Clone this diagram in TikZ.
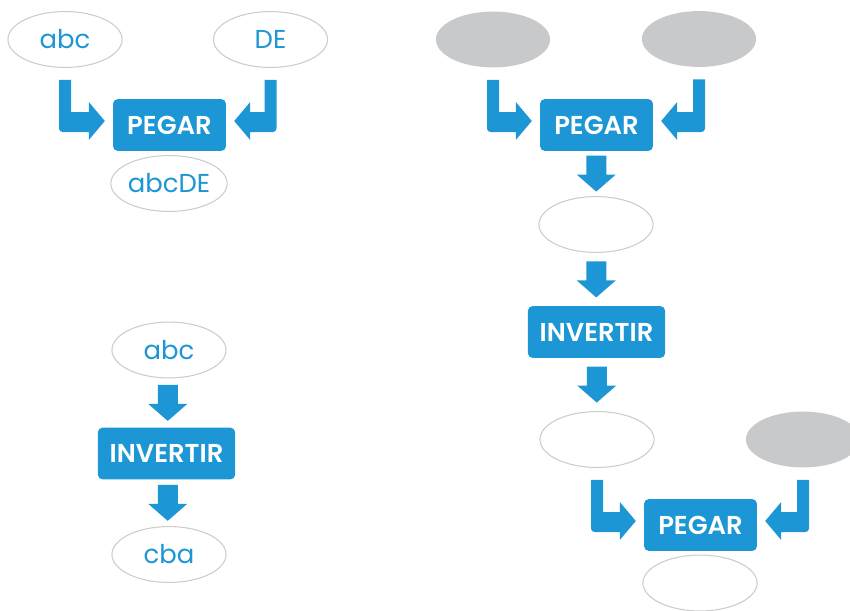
\documentclass[tikz,border=0pt]{standalone}
\usepackage{fontspec}
\setmainfont{Poppins}[BoldFont={Poppins SemiBold}]
\usetikzlibrary{calc,shapes.geometric}

\definecolor{azulcaja}{RGB}{28,150,212}
\definecolor{grisdato}{RGB}{200,201,203}
\definecolor{bordedato}{RGB}{204,204,204}

\tikzset{
  dato/.style={ellipse,draw=bordedato,line width=0.9pt,fill=white,inner sep=0pt,
    minimum width=97pt,minimum height=47.5pt,text=azulcaja,font=\fontsize{22}{26}\selectfont},
  oculto/.style={dato,draw=none,fill=grisdato},
  funcion/.style={rectangle,rounded corners=4pt,fill=azulcaja,text=white,inner xsep=10pt,
    minimum width=96pt,minimum height=44pt,font=\bfseries\fontsize{22}{26}\selectfont},
  flecha/.style={fill=azulcaja}
}

% flecha gruesa hacia abajo, centrada entre dos nodos
\newcommand\bajar[2]{%
  \coordinate (m) at ($(#1.south)!0.5!(#2.north)$);
  \fill[flecha] ($(m)+(-10,-18)$) -- ($(m)+(10,-18)$) -- ($(m)+(10,1)$) -- ($(m)+(19.5,1)$)
    -- ($(m)+(0,18)$) -- ($(m)+(-19.5,1)$) -- ($(m)+(-10,1)$) -- cycle;}

% flecha en L: baja del dato y entra de lado en la caja (#3 = 1 izquierda, -1 derecha)
\newcommand\gancho[3]{%
  \fill[flecha] ($(#1.south)+(-6*#3,12)$) -- ($(#1.south)+(6*#3,12)$)
    -- ($(#1.south|-#2)+(6*#3,-13)$) -- ($(#2)+(-24*#3,-13)$) -- ($(#2)+(-24*#3,-23)$)
    -- ($(#2)+(-8*#3,-4)$) -- ($(#2)+(-24*#3,15)$) -- ($(#2)+(-24*#3,7)$)
    [rounded corners=3pt] -- ($(#1.south|-#2)+(-6*#3,7)$) [sharp corners] -- cycle;}

\begin{document}
\begin{tikzpicture}[x=0.85pt,y=-0.85pt]
  \clip (0,0) rectangle (850,610);

  % pegar arriba a la izquierda
  \node[dato] (abc1) at (65,39.5) {abc};
  \node[dato] (de) at (270.5,39.5) {DE};
  \node[funcion] (peg1) at (169.5,125) {PEGAR};
  \node[dato] (abcde) at (169,183.5) {abcDE};
  \gancho{abc1}{peg1.west}{1}
  \gancho{de}{peg1.east}{-1}

  % invertir abajo a la izquierda
  \node[dato] (abc2) at (169,350) {abc};
  \node[funcion] (inv1) at (166.5,453.5) {INVERTIR};
  \node[dato] (cba) at (169,554.5) {cba};
  \bajar{abc2}{inv1}
  \bajar{inv1}{cba}

  % cadena de la derecha
  \node[oculto] (g1) at (493,39.5) {};
  \node[oculto] (g2) at (699,39) {};
  \node[funcion] (peg2) at (596.5,125) {PEGAR};
  \node[dato] (w1) at (596,224.5) {};
  \node[funcion] (inv2) at (596.5,332) {INVERTIR};
  \node[dato] (w2) at (597,439.5) {};
  \node[oculto] (g3) at (803,439.5) {};
  \node[funcion] (peg3) at (700.5,525) {PEGAR};
  \node[dato] (w3) at (700,583) {};
  \gancho{g1}{peg2.west}{1}
  \gancho{g2}{peg2.east}{-1}
  \bajar{peg2}{w1}
  \bajar{w1}{inv2}
  \bajar{inv2}{w2}
  \gancho{w2}{peg3.west}{1}
  \gancho{g3}{peg3.east}{-1}
\end{tikzpicture}
\end{document}
